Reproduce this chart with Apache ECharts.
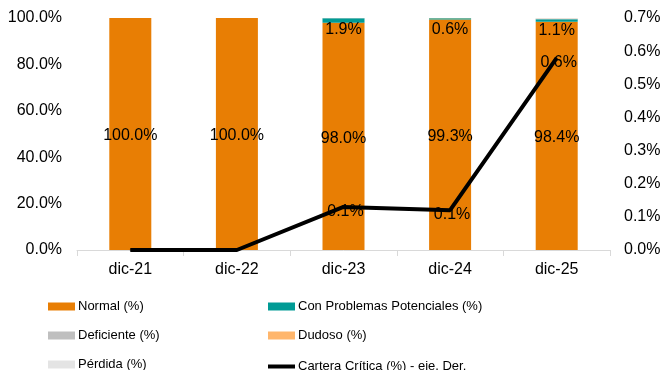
<!DOCTYPE html>
<html>
<head>
<meta charset="utf-8">
<script src="https://cdn.jsdelivr.net/npm/echarts@6/dist/echarts.min.js"></script>
<style>
  html, body { margin: 0; padding: 0; background: #fff; }
  #chart { width: 664px; height: 370px; }
</style>
</head>
<body>
<div id="chart"></div>
<script>
// Loan portfolio quality by risk category (stacked, %), plus critical portfolio on the right axis
const categories = ['dic-21', 'dic-22', 'dic-23', 'dic-24', 'dic-25'];
const normal = [100.0, 100.0, 98.0, 99.3, 98.4];
const problemasPotenciales = [0, 0, 1.9, 0.6, 1.1];
const deficiente = [0, 0, 0.09, 0.02, 0.15];
const dudoso = [0, 0, 0.03, 0.09, 0.13];
const perdida = [0, 0, 0.01, 0.01, 0.30];
const carteraCritica = [0, 0, 0.13, 0.12, 0.58];
const leftTicks = { min: 0, max: 100, interval: 20 };
const rightTicks = { min: 0, max: 0.7, interval: 0.1 };

const FONT = 'Liberation Sans, Arial, sans-serif';
const pct = v => v.toFixed(1) + '%';
const hideZero = p => (p.value ? pct(p.value) : '');

const chart = echarts.init(document.getElementById('chart'), null, { renderer: 'canvas' });

const barLabel = (position, extra) => Object.assign({
  show: true, position, color: '#000', fontFamily: FONT, fontSize: 16, formatter: hideZero
}, extra || {});

// one legend per entry, laid out as a two-column grid below the plot
const legendSlots = [
  { name: 'Normal (%)', col: 0, row: 0 },
  { name: 'Con Problemas Potenciales (%)', col: 1, row: 0 },
  { name: 'Deficiente (%)', col: 0, row: 1 },
  { name: 'Dudoso (%)', col: 1, row: 1 },
  { name: 'Pérdida (%)', col: 0, row: 2 },
  { name: 'Cartera Crítica (%) - eje. Der.', col: 1, row: 2, line: true }
];
const legends = legendSlots.map(s => ({
  left: s.col ? 268 : 48,
  top: s.line ? 300 + s.row * 29 + 2 : 300 + s.row * 29,
  padding: 0,
  itemWidth: 27,
  itemHeight: s.line ? 4 : 8,
  icon: 'rect',
  selectedMode: false,
  data: [s.name],
  textStyle: { fontFamily: FONT, fontSize: 13, color: '#000', padding: [0, 0, 0, -2] }
}));

chart.setOption({
  animation: false,
  backgroundColor: '#fff',
  grid: { left: 77, right: 54, top: 18, bottom: 120 },
  legend: legends,
  xAxis: {
    type: 'category',
    data: categories,
    axisLine: { lineStyle: { color: '#d9d9d9', width: 1 } },
    axisTick: { show: true, length: 6, lineStyle: { color: '#d9d9d9' } },
    axisLabel: { color: '#000', fontFamily: FONT, fontSize: 16, margin: 12 }
  },
  yAxis: [
    {
      type: 'value', min: leftTicks.min, max: leftTicks.max, interval: leftTicks.interval,
      splitLine: { show: false }, axisLine: { show: false }, axisTick: { show: false },
      axisLabel: { color: '#000', fontFamily: FONT, fontSize: 16, margin: 15, formatter: pct }
    },
    {
      type: 'value', min: rightTicks.min, max: rightTicks.max, interval: rightTicks.interval,
      splitLine: { show: false }, axisLine: { show: false }, axisTick: { show: false },
      axisLabel: { color: '#000', fontFamily: FONT, fontSize: 16, margin: 14, formatter: pct }
    }
  ],
  series: [
    {
      name: 'Normal (%)', type: 'bar', stack: 'cartera', barWidth: 42,
      itemStyle: { color: '#E87E04' }, data: normal,
      label: barLabel('inside', { offset: [0, 2] })
    },
    {
      name: 'Con Problemas Potenciales (%)', type: 'bar', stack: 'cartera',
      itemStyle: { color: '#009B95' }, data: problemasPotenciales,
      label: barLabel('insideTop', { distance: 3 })
    },
    {
      name: 'Deficiente (%)', type: 'bar', stack: 'cartera',
      itemStyle: { color: '#BFBFBF' }, data: deficiente
    },
    {
      name: 'Dudoso (%)', type: 'bar', stack: 'cartera',
      itemStyle: { color: '#FFB66C' }, data: dudoso
    },
    {
      name: 'Pérdida (%)', type: 'bar', stack: 'cartera',
      itemStyle: { color: '#E4E4E4' }, data: perdida
    },
    {
      name: 'Cartera Crítica (%) - eje. Der.', type: 'line', yAxisIndex: 1,
      data: carteraCritica, symbol: 'circle', symbolSize: 1, showSymbol: true, z: 5,
      itemStyle: { color: '#000' },
      lineStyle: { color: '#000', width: 4 },
      label: {
        show: true, position: 'top', distance: 5, offset: [2, 18], color: '#000',
        fontFamily: FONT, fontSize: 16, formatter: hideZero
      }
    }
  ]
});
</script>
</body>
</html>
